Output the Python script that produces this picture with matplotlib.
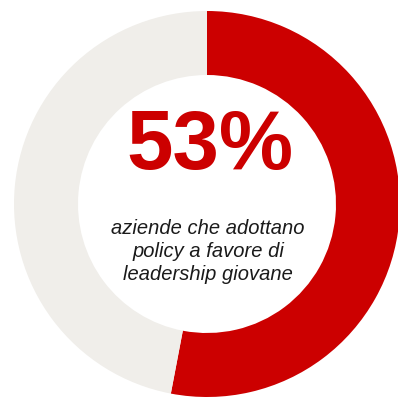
import matplotlib.pyplot as plt

# share of companies with youth-leadership policies
labels = ["Sì", "No"]
shares = [53, 47]
colors = ["#CC0000", "#F0EEEA"]

headline = "53%"
caption = ["aziende che adottano", "policy a favore di", "leadership giovane"]

W, H = 398, 397
fig = plt.figure(figsize=(W / 100, H / 100), dpi=100)
ax = fig.add_axes([0, 0, 1, 1])

cx, cy, r_out, ring = 207, H - 204, 193, 64
ax.pie(shares, colors=colors, startangle=90, counterclock=False,
       center=(cx, cy), radius=r_out, frame=True,
       wedgeprops=dict(width=ring, linewidth=0))

ax.set_xlim(0, W)
ax.set_ylim(0, H)
ax.set_aspect("equal")
ax.axis("off")

ax.text(210, H - 147, headline, ha="center", va="center", color="#CC0000",
        fontsize=60, fontweight="bold", family="Liberation Sans")
for i, line in enumerate(caption):
    ax.text(208, H - 228 - i * 23.5, line, ha="center", va="center",
            color="#1A1A1A", fontsize=14.5, style="italic",
            family="Liberation Sans")

fig.savefig("out.png", dpi=100)
